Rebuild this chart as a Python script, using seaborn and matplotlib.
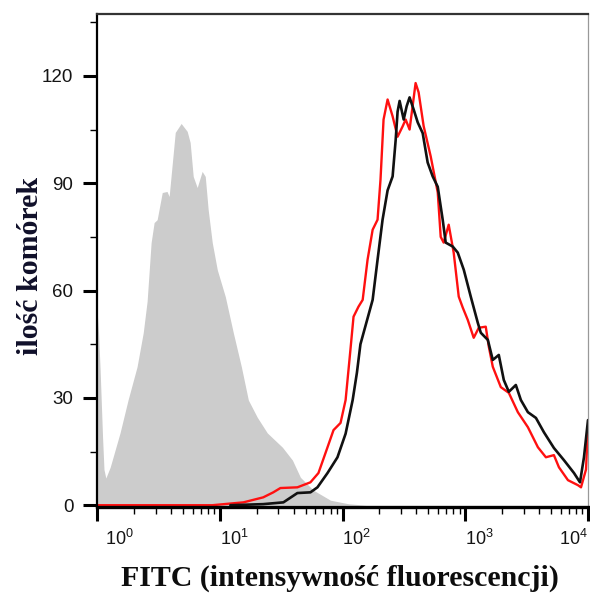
import numpy as np
import pandas as pd
import matplotlib
matplotlib.use("Agg")
import matplotlib.pyplot as plt
from matplotlib.ticker import LogLocator, NullFormatter, MultipleLocator
from matplotlib.transforms import ScaledTranslation
import seaborn as sns

# Isotype / unstained control (filled grey histogram)
ctrl_fitc = [1.0, 1.03, 1.06, 1.11, 1.14, 1.18, 1.28, 1.54, 1.79, 2.12, 2.38, 2.56,
             2.76, 2.92, 3.09, 3.40, 3.72, 3.87, 4.34, 4.85, 5.43, 5.74, 6.08, 6.55,
             7.19, 7.62, 8.05, 8.69, 9.55, 11.1, 12.9, 15.0, 17.1, 20.2, 24.4, 32.4,
             39.1, 45.4, 57.9, 79.8, 112, 155, 10000]
ctrl_count = [55, 48, 38, 19, 10, 7.6, 10.6, 20.2, 29.4, 38.7, 48.2, 57, 73.4, 79,
              79.8, 87.4, 87.7, 86.3, 104.2, 106.7, 104.5, 101.4, 91.9, 88.8, 93.3,
              91.9, 82.6, 73.4, 65.8, 58.3, 48.2, 38.7, 29.4, 24.6, 20.2, 16.2, 12.6,
              7.8, 4.2, 1.4, 0.4, 0, 0]

# Stained sample, red trace
red_fitc = [1.0, 8.69, 15.6, 22.6, 27.3, 31.2, 42.9, 54.8, 63.7, 75.5, 84.5, 96.4,
            106, 116, 123, 135, 146, 160, 176, 193, 204, 216, 233, 256, 281, 309,
            327, 352, 394, 417, 458, 523, 597, 631, 667, 733, 805, 885, 955, 1048,
            1172, 1289, 1469, 1556, 1676, 1949, 2265, 2683, 3239, 3908, 4539, 5275,
            5798, 6866, 8279, 8770, 9635, 10000]
red_count = [0, 0, 0.8, 2.2, 3.6, 4.8, 5.0, 6.4, 9.0, 16.2, 21, 23, 29.4, 43.4, 52.7,
             55.5, 57.4, 68.6, 77, 79.8, 91, 107.8, 113.4, 108.7, 103, 105.9, 107.8,
             105, 118, 115.4, 106, 97.5, 87.4, 75, 73.4, 78.4, 70.6, 58.3, 55.2, 51.8,
             46.8, 49.6, 49.9, 44.3, 38.7, 33, 31.4, 26, 21.8, 16.2, 13.4, 14, 10.6,
             7, 5.6, 5.0, 10, 22]

# Stained sample, black trace
black_fitc = [12.2, 22.6, 33.0, 42.9, 54.8, 62.5, 75.5, 91.0, 106, 121, 131, 140,
              176, 193, 212, 233, 256, 271, 281, 292, 315, 333, 352, 380, 410, 450,
              494, 543, 597, 655, 693, 791, 869, 973, 1109, 1265, 1339, 1528, 1676,
              1876, 2061, 2265, 2583, 2839, 3239, 3765, 4373, 5275, 6366, 7688, 8605,
              9272, 10000]
black_count = [0, 0.3, 0.8, 3.4, 3.6, 5, 9, 13.4, 20, 29.4, 37, 45, 57.4, 68.6,
               79.8, 88, 91.9, 102, 110, 113, 107.8, 111.5, 114, 110.6, 107, 104,
               95.8, 91.9, 89, 79.8, 73.4, 72.3, 70.6, 65.8, 58.3, 51, 48.2, 46.2,
               40.6, 42, 35, 31.7, 33.6, 29.4, 26, 24.4, 20.4, 16, 12.6, 9, 6.4, 13.4,
               23.8]

x_ticks = [1, 10, 100, 1000, 10000]
x_tick_labels = [r"$10^{0}$", r"$10^{1}$", r"$10^{2}$", r"$10^{3}$", r"$10^{4}$"]
y_ticks = [0, 30, 60, 90, 120]

sns.set_style("ticks")
plt.rcParams["font.family"] = ["Liberation Sans", "DejaVu Sans"]
plt.rcParams["mathtext.default"] = "regular"

fig = plt.figure(figsize=(5.90, 5.95), dpi=100)
ax = fig.add_axes([97 / 590, 1 - 507 / 595, 491 / 590, 493 / 595])

ctrl = pd.DataFrame({"fitc": ctrl_fitc, "count": ctrl_count})
red = pd.DataFrame({"fitc": red_fitc, "count": red_count})
black = pd.DataFrame({"fitc": black_fitc, "count": black_count})

ax.fill_between(ctrl["fitc"], ctrl["count"], 0, color="#cccccc", lw=0, zorder=1)
sns.lineplot(data=red, x="fitc", y="count", color="#ff1010", lw=1.7,
             ax=ax, zorder=3, sort=False)
sns.lineplot(data=black, x="fitc", y="count", color="#111111", lw=1.9,
             ax=ax, zorder=4, sort=False)

ax.set_xscale("log")
ax.set_xlim(1, 10000)
ax.set_ylim(-0.5, 137.3)

ax.set_xticks(x_ticks)
ax.set_xticklabels(x_tick_labels)
ax.xaxis.set_minor_locator(LogLocator(base=10, subs=np.arange(2, 10)))
ax.xaxis.set_minor_formatter(NullFormatter())

ax.set_yticks(y_ticks)
ax.yaxis.set_minor_locator(MultipleLocator(15))

ax.tick_params(axis="both", which="major", direction="out", length=10, width=2.2,
               color="black", labelcolor="#141414", pad=6)
ax.tick_params(axis="both", which="minor", direction="out", length=5, width=1.0,
               color="black")
ax.tick_params(axis="x", which="major", labelsize=13)
ax.tick_params(axis="y", which="major", labelsize=13.5, pad=7)

# decade labels sit to the right of their tick; the last one ends at the frame
xlabels = ax.get_xticklabels()
for i, lab in enumerate(xlabels):
    if i == len(xlabels) - 1:
        lab.set_ha("right")
    else:
        lab.set_ha("left")
xlabels[0].set_transform(xlabels[0].get_transform()
                         + ScaledTranslation(8 / 100, 0, fig.dpi_scale_trans))

ax.spines["left"].set_linewidth(1.6)
ax.spines["left"].set_color("black")
ax.spines["bottom"].set_linewidth(2.4)
ax.spines["bottom"].set_color("black")
ax.spines["top"].set_linewidth(1.6)
ax.spines["top"].set_color("#333333")
ax.spines["right"].set_linewidth(0.9)
ax.spines["right"].set_color("#999999")
for s in ax.spines.values():
    s.set_zorder(5)

label_font = dict(family=["Liberation Serif", "DejaVu Serif"], weight="bold",
                  size=21.5)
ax.set_xlabel("")
ax.set_ylabel("")
fig.text(340 / 590, 1 - 578 / 595, "FITC (intensywność fluorescencji)",
         ha="center", va="center", color="#0d0d0d", **label_font)
fig.text(30 / 590, 1 - 266 / 595, "ilość komórek", rotation=90,
         ha="center", va="center", color="#10102a", **label_font)

fig.savefig("out.png", dpi=100)
